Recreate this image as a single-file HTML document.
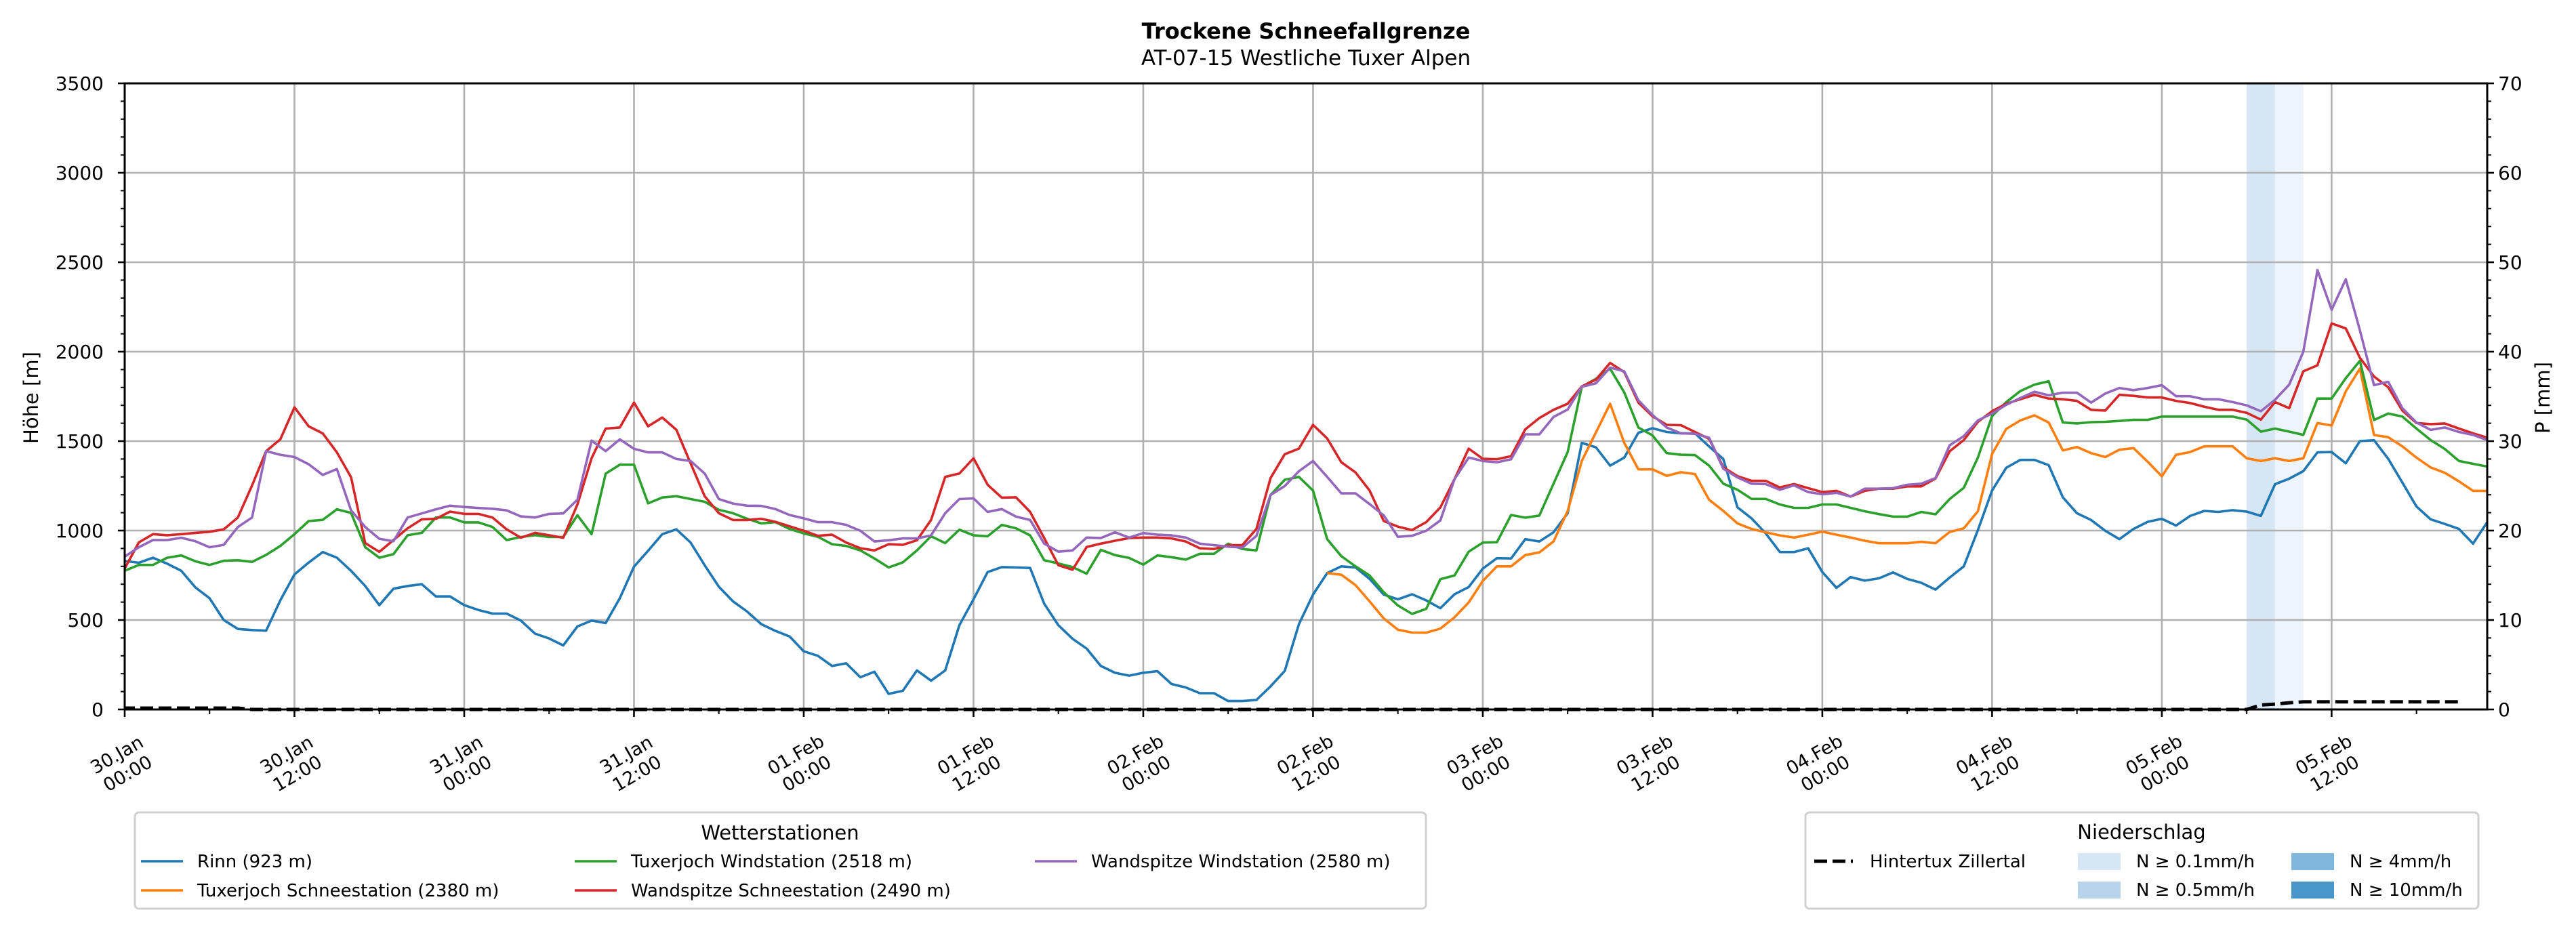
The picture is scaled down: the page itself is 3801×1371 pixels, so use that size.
<!DOCTYPE html>
<html><head><meta charset="utf-8"><title>Trockene Schneefallgrenze</title>
<style>
html,body{margin:0;padding:0;background:#fff;}
svg{display:block;font-family:"DejaVu Sans","Liberation Sans",sans-serif;}
</style></head>
<body>
<svg id="chart" xmlns="http://www.w3.org/2000/svg" width="3801" height="1371" viewBox="0 0 3801 1371">
<rect x="0" y="0" width="3801" height="1371" fill="#fff"/>
<text x="1927" y="57" font-size="32" font-weight="bold" text-anchor="middle">Trockene Schneefallgrenze</text>
<text x="1927" y="96" font-size="31" text-anchor="middle">AT-07-15 Westliche Tuxer Alpen</text>
<g id="bands"></g><g id="grid"></g><g id="series"></g><g id="axes"></g><g id="legends"></g>
</svg>
<script>
// ---- data ----
const hours = Array.from({length:168},(_, i)=>i);
const tickHours = [0,12,24,36,48,60,72,84,96,108,120,132,144,156];
const tickDates = ["30.Jan","30.Jan","31.Jan","31.Jan","01.Feb","01.Feb","02.Feb","02.Feb","03.Feb","03.Feb","04.Feb","04.Feb","05.Feb","05.Feb"];
const tickTimes = ["00:00","12:00","00:00","12:00","00:00","12:00","00:00","12:00","00:00","12:00","00:00","12:00","00:00","12:00"];
const yTicks = [0,500,1000,1500,2000,2500,3000,3500];
const pTicks = [0,10,20,30,40,50,60,70];
const rinn = [830,820,848,815,775,682,622,500,450,444,440,610,755,821,880,848,775,690,583,675,690,700,632,632,583,556,536,536,497,424,397,358,464,497,483,622,798,887,980,1007,
933,806,686,604,547,477,439,408,325,300,243,258,180,211,87,104,218,161,218,471,616,768,796,794,791,591,471,395,340,243,205,189,205,214,142,123,91,91,47,47,53,129,
215,477,642,762,800,794,730,642,616,644,610,566,644,684,787,846,844,952,939,990,1097,1490,1465,1363,1408,1547,1572,1551,1543,1543,1470,1400,1130,1068,984,880,880,901,768,680,740,720,733,766,730,708,670,737,800,1003,1224,1351,1395,1395,1366,1186,1097,1059,999,952,1009,1049,1066,1028,1082,1110,1104,1114,1106,1082,1259,1290,1332,1437,1439,1376,1500,1505,1401,1268,1135,1063,1037,1009,927,1047];
const tuxSchnee = [null,null,null,null,null,null,null,null,null,null,null,null,null,null,null,null,null,null,null,null,null,null,null,null,null,null,null,null,null,null,null,null,null,null,null,null,null,null,null,null,
null,null,null,null,null,null,null,null,null,null,null,null,null,null,null,null,null,null,null,null,null,null,null,null,null,null,null,null,null,null,null,null,null,null,null,null,null,null,null,null,null,null,
null,null,null,762,753,695,604,509,446,430,429,452,515,598,718,800,800,863,878,939,1110,1389,1549,1709,1490,1342,1342,1306,1326,1316,1172,1110,1040,1009,990,973,961,977,994,977,961,943,929,929,929,937,929,992,1013,1108,1428,1568,1616,1644,1604,1448,1467,1433,1411,1452,1461,1385,1303,1423,1439,1471,1471,1471,1404,1389,1404,1389,1404,1601,1587,1778,1905,1534,1522,1471,1408,1353,1323,1275,1222,1222];
const tuxWind = [775,808,808,848,861,828,808,831,834,825,864,914,980,1053,1060,1119,1099,907,848,868,974,987,1073,1073,1046,1046,1020,947,964,974,964,964,1086,980,1318,1368,1368,1152,1185,1192,
1176,1161,1116,1097,1066,1040,1047,1009,984,965,924,914,889,844,794,822,889,968,930,1005,973,968,1032,1013,973,834,816,796,759,892,863,847,810,861,851,838,870,870,927,897,889,1199,
1284,1300,1224,952,857,800,749,655,581,534,562,728,749,882,933,935,1087,1072,1084,1262,1439,1804,1848,1905,1772,1576,1532,1433,1424,1422,1363,1262,1228,1177,1177,1146,1127,1127,1146,1146,1127,1108,1092,1078,1078,1104,1091,1176,1239,1408,1640,1718,1780,1816,1835,1604,1599,1606,1608,1613,1619,1619,1637,1637,1637,1637,1637,1637,1620,1553,1570,1553,1535,1738,1738,1852,1949,1618,1654,1637,1570,1506,1456,1389,1373,1358];
const wandSchnee = [788,934,980,974,980,987,993,1007,1073,1252,1444,1510,1689,1583,1543,1437,1298,930,881,947,1013,1063,1066,1106,1093,1093,1073,1007,960,987,974,960,1146,1404,1570,1576,1715,1583,1632,1563,
1376,1192,1097,1059,1059,1066,1049,1024,999,971,977,933,901,889,924,920,946,1059,1300,1319,1404,1256,1184,1186,1104,958,806,781,908,927,943,958,961,961,956,939,901,897,918,918,1009,1294,
1427,1458,1591,1515,1382,1325,1224,1053,1022,1003,1047,1129,1287,1458,1401,1399,1416,1566,1629,1675,1709,1806,1844,1937,1886,1715,1639,1591,1589,1551,1513,1354,1304,1278,1278,1241,1260,1237,1215,1222,1190,1222,1234,1234,1247,1247,1291,1443,1506,1608,1667,1709,1734,1759,1738,1734,1725,1675,1671,1759,1753,1744,1744,1725,1713,1692,1675,1675,1658,1620,1718,1684,1890,1924,2158,2130,1966,1861,1801,1671,1601,1595,1599,1570,1544,1519];
const wandWind = [854,907,947,947,960,940,907,920,1020,1073,1444,1424,1411,1371,1311,1344,1113,1020,954,940,1073,1096,1119,1139,1132,1126,1122,1113,1079,1073,1093,1096,1172,1503,1444,1510,1457,1437,1437,1400,
1389,1319,1176,1151,1139,1138,1120,1087,1068,1047,1047,1032,999,939,946,956,956,973,1097,1176,1180,1104,1120,1078,1059,927,882,889,961,958,990,961,986,977,973,961,927,918,910,905,970,1199,
1249,1332,1389,1300,1208,1208,1148,1085,965,971,999,1057,1287,1408,1389,1382,1399,1538,1538,1635,1677,1804,1823,1911,1890,1728,1646,1576,1544,1541,1519,1346,1297,1262,1260,1228,1253,1215,1203,1211,1190,1234,1234,1237,1256,1262,1294,1477,1528,1616,1654,1703,1741,1776,1756,1771,1771,1715,1766,1797,1785,1797,1813,1751,1751,1734,1734,1718,1700,1667,1731,1816,1999,2456,2234,2405,2120,1813,1832,1684,1604,1563,1576,1551,1535,1506];
const precip = [0.15,0.15,0.15,0.15,0.15,0.15,0.15,0.15,0.15,0,0,0,0,0,0,0,0,0,0,0,0,0,0,0,0,0,0,0,0,0,0,0,0,0,0,0,0,0,0,0,
0,0,0,0,0,0,0,0,0,0,0,0,0,0,0,0,0,0,0,0,0,0,0,0,0,0,0,0,0,0,0,0,0,0,0,0,0,0,0,0,0,0,
0,0,0,0,0,0,0,0,0,0,0,0,0,0,0,0,0,0,0,0,0,0,0,0,0,0,0,0,0,0,0,0,0,0,0,0,0,0,0,0,0,0,0,0,0,0,0,0,0,0,0,0,0,0,0,0,0,0,0,0,0,0,0,0,0,0,0,0,0,0.5,0.6,0.75,0.85,0.85,0.85,0.85,0.85,0.85,0.85,0.85,0.85,0.85,0.85,0.85];
const bandStart = [150,152];
const bandEnd = [152,154];
const bandLevel = ["0.5","0.1"];

// ---- scales ----
const L=184,R=3670,T=123,B=1047;
const hMax=167;
const X = h => L + (h/hMax)*(R-L);
const Y = v => B - (v/3500)*(B-T);
const YP = p => B - (p/70)*(B-T);
const NS="http://www.w3.org/2000/svg";
function mk(tag, attrs, parent){const e=document.createElementNS(NS,tag);for(const k in attrs)e.setAttribute(k,attrs[k]);parent.appendChild(e);return e;}
const gB=document.getElementById('bands'),gG=document.getElementById('grid'),gS=document.getElementById('series'),gA=document.getElementById('axes'),gL=document.getElementById('legends');

const bandColor={"0.1":"#edf4fb","0.5":"#d6e6f4"};
for(let i=0;i<bandStart.length;i++){
  const r=mk('rect',{x:X(bandStart[i]),y:T,width:X(bandEnd[i])-X(bandStart[i]),height:B-T,fill:bandColor[bandLevel[i]]},gB);
  
  
}
yTicks.forEach(v=>{if(v===0||v===3500)return;const l=mk('line',{x1:L,x2:R,y1:Y(v),y2:Y(v),stroke:'#b0b0b0','stroke-width':2.6},gG);
  
  });
tickHours.forEach(h=>{if(h===0)return;const l=mk('line',{x1:X(h),x2:X(h),y1:T,y2:B,stroke:'#b0b0b0','stroke-width':2.6},gG);
  
  });

function pathFor(arr){let d='',pen=false;arr.forEach((v,i)=>{if(v===null){pen=false;return;}d+=(pen?'L':'M')+X(hours[i]).toFixed(1)+','+Y(v).toFixed(1);pen=true;});return d;}
const seriesDefs=[[rinn,'#1f77b4','series-rinn'],[tuxSchnee,'#ff7f0e','series-tuxerjoch-schneestation'],[tuxWind,'#2ca02c','series-tuxerjoch-windstation'],[wandSchnee,'#d62728','series-wandspitze-schneestation'],[wandWind,'#9467bd','series-wandspitze-windstation']];
seriesDefs.forEach(s=>{const p=mk('path',{d:pathFor(s[0]),fill:'none',stroke:s[1],'stroke-width':3.6,'stroke-linejoin':'round'},gS);
  
  });
let pd='';precip.forEach((p,i)=>{pd+=(i?'L':'M')+X(hours[i]).toFixed(1)+','+YP(p).toFixed(1);});
const pp=mk('path',{d:pd,fill:'none',stroke:'#000','stroke-width':5,'stroke-dasharray':'19,8','stroke-dashoffset':4},gS);



const fr=mk('rect',{x:L,y:T,width:R-L,height:B-T,fill:'none',stroke:'#000','stroke-width':3},gA);


for(let v=0;v<=3500;v+=100){const major=v%500===0;mk('line',{x1:L,x2:L-(major?10:6),y1:Y(v),y2:Y(v),stroke:'#000','stroke-width':major?2.6:2},gA);}
yTicks.forEach(v=>{const t=mk('text',{x:153,y:Y(v)+10,'font-size':28,'text-anchor':'end'},gA);t.textContent=v;
  
  });
for(let p=0;p<=70;p+=2){const major=p%10===0;mk('line',{x1:R,x2:R+(major?10:6),y1:YP(p),y2:YP(p),stroke:'#000','stroke-width':major?2.6:2},gA);}
pTicks.forEach(p=>{const t=mk('text',{x:3686,y:YP(p)+10,'font-size':28,'text-anchor':'start'},gA);t.textContent=p;
  
  });
for(let h=0;h<=hMax;h+=6){const major=h%12===0;mk('line',{x1:X(h),x2:X(h),y1:B,y2:B+(major?11:7),stroke:'#000','stroke-width':major?2.6:2},gA);}
tickHours.forEach((h,i)=>{const g=mk('g',{transform:'translate('+(X(h)-4)+',1127) rotate(-30)'},gA);
  
  
  const t1=mk('text',{x:0,y:-6,'font-size':27,'text-anchor':'middle'},g);t1.textContent=tickDates[i];
  const t2=mk('text',{x:0,y:26,'font-size':27,'text-anchor':'middle'},g);t2.textContent=tickTimes[i];});
const yl=mk('text',{transform:'translate(56,587) rotate(-90)','font-size':29,'text-anchor':'middle'},gA);yl.textContent='Höhe [m]';


const pl=mk('text',{transform:'translate(3762,587) rotate(-90)','font-size':29,'text-anchor':'middle'},gA);pl.textContent='P [mm]';



const lg1=mk('g',{},gL);


mk('rect',{x:199,y:1199,width:1905,height:142,rx:6,fill:'#fff',stroke:'#d0d0d0','stroke-width':3},lg1);
const lt1=mk('text',{x:1151,y:1239,'font-size':29,'text-anchor':'middle'},lg1);lt1.textContent='Wetterstationen';
const entries=[['Rinn (923 m)','#1f77b4',208,291,1271],['Tuxerjoch Schneestation (2380 m)','#ff7f0e',208,291,1314],['Tuxerjoch Windstation (2518 m)','#2ca02c',848,931,1271],['Wandspitze Schneestation (2490 m)','#d62728',848,931,1314],['Wandspitze Windstation (2580 m)','#9467bd',1527,1610,1271]];
entries.forEach(e=>{const g=mk('g',{},lg1);
  
  
  mk('line',{x1:e[2],x2:e[2]+62,y1:e[4],y2:e[4],stroke:e[1],'stroke-width':3.6},g);
  const t=mk('text',{x:e[3],y:e[4]+9,'font-size':26},g);t.textContent=e[0];});
const lg2=mk('g',{},gL);


mk('rect',{x:2664,y:1199,width:993,height:142,rx:6,fill:'#fff',stroke:'#d0d0d0','stroke-width':3},lg2);
const lt2=mk('text',{x:3160,y:1238,'font-size':29,'text-anchor':'middle'},lg2);lt2.textContent='Niederschlag';
const hg=mk('g',{},lg2);


mk('line',{x1:2677,x2:2734,y1:1271,y2:1271,stroke:'#000','stroke-width':5,'stroke-dasharray':'19,8'},hg);
const ht=mk('text',{x:2759,y:1280,'font-size':26},hg);ht.textContent='Hintertux Zillertal';
const patches=[['N ≥ 0.1mm/h','#d6e6f4',3066,3152,1271],['N ≥ 0.5mm/h','#b8d4ea',3066,3152,1313],['N ≥ 4mm/h','#80b7da',3381,3467,1271],['N ≥ 10mm/h','#4b96c8',3381,3467,1313]];
patches.forEach(p=>{const g=mk('g',{},lg2);
  
  
  mk('rect',{x:p[2],y:p[4]-12,width:63,height:25,fill:p[1]},g);
  const t=mk('text',{x:p[3],y:p[4]+9,'font-size':26},g);t.textContent=p[0];});
</script>
</body></html>
